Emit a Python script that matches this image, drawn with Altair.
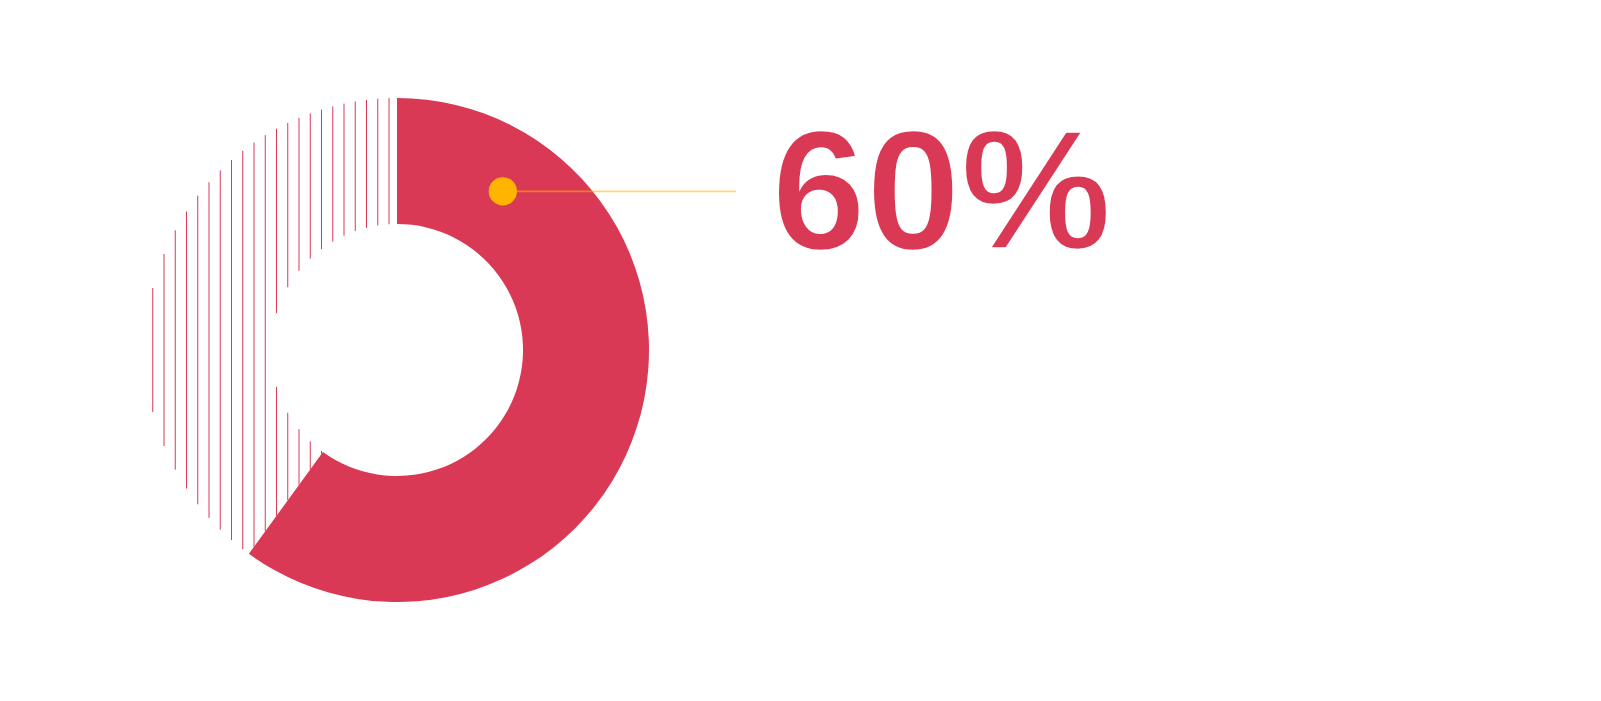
import math
import numpy as np
import pandas as pd
import altair as alt

# ---- data ----
categories = ["Filled", "Remaining"]
shares = [60, 40]            # percent
label_text = ["60%"]

# ---- layout / style constants ----
W, H = 1580, 680
R_PX = 252.0                 # outer radius in px
CX, CY = 389.0, 342.0        # donut centre inside plot area (px)
INNER = 0.5                  # inner radius as fraction of outer
RED = "#D93954"
YELLOW = "#FFB400"
HATCH_STEP = 11.25 / R_PX
HATCH_OFFSET = 8.0 / R_PX

x_scale = alt.Scale(domain=[-CX / R_PX, (W - CX) / R_PX], range=[0, W], nice=False, zero=False)
y_scale = alt.Scale(domain=[-(H - CY) / R_PX, CY / R_PX], nice=False, zero=False)

# arc table
arc_df = pd.DataFrame({"cat": [categories[0]], "start": [0], "end": [shares[0]], "cx": [0.0], "cy": [0.0]})

# hatch for the remaining share (from filled end angle to 360 deg, clockwise from top)
end_ang = math.radians(shares[0] / 100 * 360)       # 216 deg
ratio = 1.0 / math.tan(end_ang - math.pi)
rows = []
k = 0
while True:
    x = -(HATCH_OFFSET + k * HATCH_STEP)
    if x <= -1:
        break
    ax = abs(x)
    top = math.sqrt(1 - x * x)
    inner = math.sqrt(INNER ** 2 - x * x) if ax < INNER else 0.0
    low = min(ax * ratio, top)
    if ax >= INNER:
        rows.append({"x": x, "y": -low, "y2": top})
    else:
        rows.append({"x": x, "y": inner, "y2": top})
        if low > inner:
            rows.append({"x": x, "y": -low, "y2": -inner})
    k += 1
hatch_df = pd.DataFrame(rows)

dot_angle = math.radians(33.7)
dot_r = 0.757
dot_df = pd.DataFrame({"x": [dot_r * math.sin(dot_angle)], "y": [dot_r * math.cos(dot_angle)]})
guide_end = 1.345
guide_df = pd.DataFrame({"x": [dot_df.x[0]], "x2": [guide_end], "y": [dot_df.y[0]]})
text_df = pd.DataFrame({"x": [1.486], "y": [dot_df.y[0] - 0.026], "label": label_text})

X = lambda f: alt.X(f, type="quantitative", scale=x_scale, axis=None)
Y = lambda f: alt.Y(f, type="quantitative", scale=y_scale, axis=None)

arc = alt.Chart(arc_df).mark_arc(outerRadius=R_PX, innerRadius=R_PX * INNER, color=RED).encode(
    x=X("cx"), y=Y("cy"),
    theta=alt.Theta("start:Q", scale=alt.Scale(domain=[0, 100], range=[0, 2 * math.pi])),
    theta2="end:Q",
)

hatch = alt.Chart(hatch_df).mark_rule(color=RED, strokeWidth=1).encode(
    x=X("x"), y=Y("y"), y2="y2"
)

guide = alt.Chart(guide_df).mark_rule(color=YELLOW, strokeWidth=1.8, opacity=0.55).encode(
    x=X("x"), x2="x2", y=Y("y")
)

dot = alt.Chart(dot_df).mark_circle(color=YELLOW, opacity=1, size=800).encode(x=X("x"), y=Y("y"))

text = alt.Chart(text_df).mark_text(
    font="Liberation Sans", fontSize=170, fontWeight="bold", align="left", baseline="middle",
    color=RED, stroke="white", strokeWidth=2.6
).encode(x=X("x"), y=Y("y"), text="label:N")

chart = alt.layer(arc, hatch, guide, dot, text).properties(
    width=W, height=H, padding=0, autosize=alt.AutoSizeParams(type="none")
).configure_view(stroke=None)

chart.save("out.html", embed_options={"renderer": "svg", "actions": False})
